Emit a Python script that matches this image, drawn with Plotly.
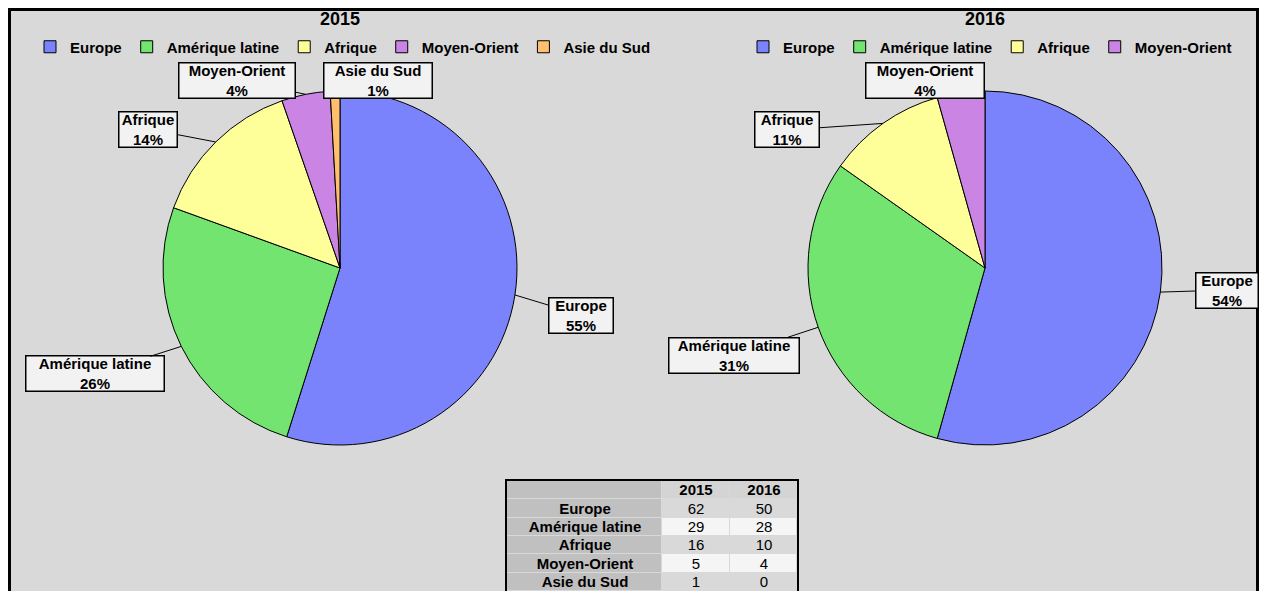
import math
import plotly.graph_objects as go

# the page body keeps its default 8px margin, so the figure is drawn 8px in
W, H = 1251, 583
OX, OY = 8, 8

regions = ["Europe", "Amérique latine", "Afrique", "Moyen-Orient", "Asie du Sud"]
years = ["2015", "2016"]
values_2015 = [62, 29, 16, 5, 1]
values_2016 = [50, 28, 10, 4, 0]
pct_2015 = ["55%", "26%", "14%", "4%", "1%"]
pct_2016 = ["54%", "31%", "11%", "4%", "0%"]
colors = ["#7b83fc", "#72e46f", "#ffff99", "#c984e4", "#ffbf6e"]

FONT = "Liberation Sans, Arial, sans-serif"


def px(x):
    return (x - OX) / W


def py(y):
    return 1 - (y - OY) / H


# pie geometry in page pixels
R = 177
pies = [
    {"year": "2015", "vals": values_2015, "pct": pct_2015, "cx": 340, "cy": 268, "legend": "legend",
     # label boxes: centre x, centre y, width, height
     "boxes": [(581, 315, 66, 37), (95, 374, 140, 37), (148, 129, 60, 37),
               (237, 80, 118, 37), (378, 80, 110, 37)]},
    {"year": "2016", "vals": values_2016, "pct": pct_2016, "cx": 985, "cy": 268, "legend": "legend2",
     "boxes": [(1227, 290, 64, 37), (734, 355, 132, 37), (787, 130, 66, 37),
               (925, 80, 120, 37), None]},
]

fig = go.Figure()
annotations = []

for p in pies:
    keep = [i for i, v in enumerate(p["vals"]) if v > 0]
    fig.add_trace(go.Pie(
        labels=[regions[i] for i in keep],
        values=[p["vals"][i] for i in keep],
        marker=dict(colors=[colors[i] for i in keep], line=dict(color="black", width=1)),
        sort=False,
        direction="clockwise",
        rotation=0,
        textinfo="none",
        hoverinfo="label+value+percent",
        domain=dict(x=[px(p["cx"] - R), px(p["cx"] + R)], y=[py(p["cy"] + R), py(p["cy"] - R)]),
        legend=p["legend"],
        legendgroup="g" + p["year"],
        showlegend=True,
        name=p["year"],
    ))

    annotations.append(dict(
        x=px(p["cx"]), y=py(19), xref="paper", yref="paper", showarrow=False,
        xanchor="center", yanchor="middle",
        text="<b>%s</b>" % p["year"], font=dict(family=FONT, size=18, color="black"),
    ))

    tot = sum(p["vals"])
    cum = 0
    for i, v in enumerate(p["vals"]):
        mid = (cum + v / 2) / tot * 2 * math.pi
        cum += v
        box = p["boxes"][i]
        if v == 0 or box is None:
            continue
        tx = p["cx"] + R * math.sin(mid)
        ty = p["cy"] - R * math.cos(mid)
        bx, by, bw, bh = box
        annotations.append(dict(
            x=px(tx), y=py(ty), xref="paper", yref="paper",
            ax=bx - tx, ay=by - ty,
            text="<b>%s<br>%s</b>" % (regions[i], p["pct"][i]),
            font=dict(family=FONT, size=15, color="black"),
            align="center",
            bgcolor="#f2f2f2", bordercolor="black", borderwidth=1.5, borderpad=1,
            width=bw - 5, height=bh - 5,
            showarrow=True, arrowhead=0, arrowwidth=1, arrowcolor="black", standoff=0,
        ))

# data table, drawn as a heatmap grid so the rows stay compact
col_edges = [0, 155, 223, 290]
row_edges = list(range(len(regions) + 2))
header = ["", "<b>2015</b>", "<b>2016</b>"]
cell_text = [header] + [["<b>%s</b>" % r, str(a), str(b)]
                        for r, a, b in zip(regions, values_2015, values_2016)]
# colour index: 0 label column, 1 header, 2 grey row, 3 light row
cell_z = [[0, 1, 1]] + [[0, 2 + (k % 2), 2 + (k % 2)] for k in range(len(regions))]

fig.add_trace(go.Heatmap(
    x=col_edges, y=row_edges, z=cell_z, text=cell_text,
    texttemplate="%{text}",
    textfont=dict(family=FONT, size=15, color="black"),
    colorscale=[[0, "#c0c0c0"], [1 / 3, "#d4d4d4"], [2 / 3, "#d9d9d9"], [1, "#f5f5f5"]],
    zmin=0, zmax=3, showscale=False,
    xgap=1, ygap=1, hoverinfo="skip",
))

legend_style = dict(
    orientation="h", traceorder="normal", yanchor="middle", y=py(47), xanchor="center",
    font=dict(family=FONT, size=15, color="black", weight="bold"),
    bgcolor="rgba(0,0,0,0)",
)

axis_style = dict(showticklabels=False, showgrid=False, zeroline=False, ticks="",
                  showline=True, mirror=True, linecolor="black", linewidth=2, fixedrange=True)

fig.update_layout(
    width=W, height=H,
    margin=dict(l=0, r=0, t=0, b=0),
    paper_bgcolor="white",
    plot_bgcolor="#404040",
    showlegend=True,
    legend=dict(x=px(343), **legend_style),
    legend2=dict(x=px(990), **legend_style),
    xaxis=dict(domain=[px(507), px(797)], range=[0, 290], **axis_style),
    yaxis=dict(domain=[py(591), py(481)], range=[6, 0], **axis_style),
    annotations=annotations,
    shapes=[dict(
        type="rect", xref="paper", yref="paper", layer="below",
        x0=px(9.5), x1=px(1257.5), y0=py(620), y1=py(9.5),
        fillcolor="#d9d9d9", line=dict(color="black", width=3),
    )],
)

fig.write_html("out.html")
